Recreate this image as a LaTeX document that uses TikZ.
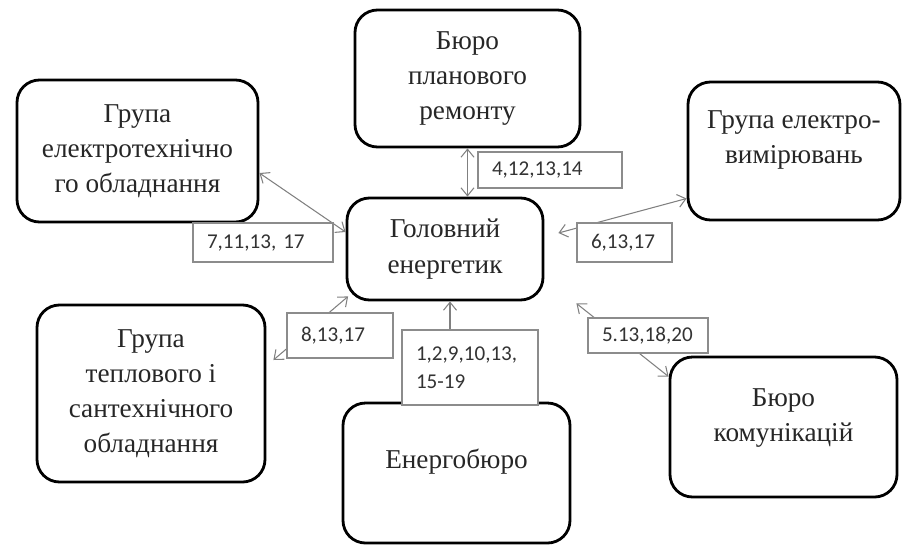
\documentclass[tikz,border=0pt]{standalone}
\usepackage{fontspec}
\setmainfont{Liberation Serif}
\newfontfamily\numfont{Carlito}
\usetikzlibrary{arrows.meta}
\tikzset{
  unittext/.style={align=center, font=\fontsize{15.5}{20}\selectfont, text=black!85},
  unit/.style={unittext, draw=black, line width=1.6pt, rounded corners=0.45cm, fill=white, inner sep=0pt},
  nums/.style={draw=black!45, line width=0.6pt, fill=white, align=left,
    font=\numfont\fontsize{12}{16}\selectfont, text=black!80, inner xsep=0.28cm, inner ysep=0pt},
  link/.style={draw=black!50, line width=0.6pt, >={Straight Barb[length=1.6mm,width=2.6mm]}}
}
\begin{document}
\begin{tikzpicture}
      \useasboundingbox (0,0) rectangle (18.1,-10.9);
      \draw
        (8.9,-4.98) node[unit, minimum width=3.92cm, minimum height=2.04cm] (0){Головний\\енергетик}
        (9.35,-1.57) node[unit, minimum width=4.5cm, minimum height=2.74cm] (1){Бюро\\планового\\ремонту}
        (15.88,-3.02) node[unit, minimum width=4.24cm, minimum height=2.76cm,
          label={[unittext, yshift=0.22cm]center:{Група електро-\\вимірювань}}] (2){}
        (15.67,-8.54) node[unit, minimum width=4.54cm, minimum height=2.8cm,
          label={[unittext, yshift=0.18cm]center:{Бюро\\комунікацій}}] (3){}
        (9.13,-9.46) node[unit, minimum width=4.54cm, minimum height=2.8cm,
          label={[unittext, yshift=0.22cm]center:Енергобюро}] (4){}
        (3.02,-7.87) node[unit, minimum width=4.56cm, minimum height=3.54cm] (5){Група\\теплового і\\сантехнічного\\обладнання}
        (2.75,-3.02) node[unit, minimum width=4.82cm, minimum height=2.84cm] (6){Група\\електротехнічно\\го обладнання};
      \begin{scope}[link, <->]
        \draw (1.south) to (0.north -| 1.south);
        \draw ([yshift=-0.95cm]2.west) to ([shift={(0.28,0.32)}]0.east);
        \draw ([yshift=-0.42cm]3.north west) to ([shift={(0.64,-0.04)}]0.south east);
        \draw[->] ([xshift=0.1cm]4.north -| 0.south) to ([xshift=0.1cm]0.south);
        \draw ([shift={(0.14,0.67)}]5.east) to ([shift={(0.05,0.1)}]0.south west);
        \draw ([yshift=-0.44cm]6.east) to ([yshift=0.34cm]0.west);
      \end{scope}
      \draw
        (11.0,-3.4) node[nums, text width=2.32cm, minimum height=0.72cm] (n1){4,12,13,14}
        (12.49,-4.85) node[nums, text width=1.34cm, minimum height=0.78cm] (n2){6,13,17}
        (12.96,-6.71) node[nums, text width=1.84cm, minimum height=0.7cm] (n3){5.13,18,20}
        (9.4,-7.35) node[nums, text width=2.16cm, minimum height=1.5cm] (n4){1,2,9,10,13,\\15-19}
        (6.8,-6.71) node[nums, text width=1.56cm, minimum height=0.9cm] (n5){8,13,17}
        (5.26,-4.85) node[nums, text width=2.24cm, minimum height=0.78cm] (n6){7,11,13, 17};
    \end{tikzpicture}
\end{document}
